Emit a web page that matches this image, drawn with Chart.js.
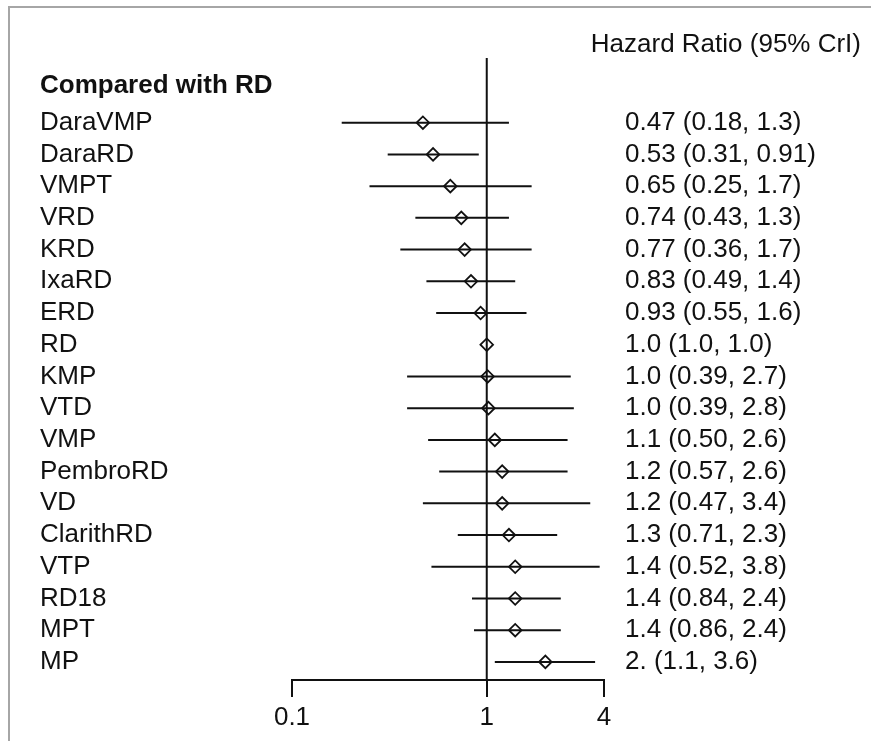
<!DOCTYPE html>
<html><head><meta charset="utf-8">
<script src="https://cdn.jsdelivr.net/npm/chart.js@4.4.0/dist/chart.umd.min.js"></script>
<style>
html,body{margin:0;padding:0;background:#fff;}
#wrap{position:relative;width:871px;height:741px;overflow:hidden;background:#fff;}
#frame{position:absolute;left:8px;top:6px;width:900px;height:800px;border-left:2px solid #a6a6a6;border-top:2px solid #a6a6a6;pointer-events:none;}
canvas{position:absolute;left:0;top:0;}
</style></head><body>
<div id="wrap"><canvas id="c" width="871" height="741"></canvas><div id="frame"></div></div>
<script>
const groupHeader = "Compared with RD";
const columnHeader = "Hazard Ratio (95% CrI)";
const treatments = ["DaraVMP","DaraRD","VMPT","VRD","KRD","IxaRD","ERD","RD","KMP","VTD","VMP","PembroRD","VD","ClarithRD","VTP","RD18","MPT","MP"];
const hazardRatio = [0.47,0.53,0.65,0.74,0.77,0.83,0.93,1.0,1.01,1.02,1.1,1.2,1.2,1.3,1.4,1.4,1.4,2.0];
const lowerCrI = [0.18,0.31,0.25,0.43,0.36,0.49,0.55,1.0,0.39,0.39,0.50,0.57,0.47,0.71,0.52,0.84,0.86,1.1];
const upperCrI = [1.3,0.91,1.7,1.3,1.7,1.4,1.6,1.0,2.7,2.8,2.6,2.6,3.4,2.3,3.8,2.4,2.4,3.6];
const valueLabels = ["0.47 (0.18, 1.3)","0.53 (0.31, 0.91)","0.65 (0.25, 1.7)","0.74 (0.43, 1.3)","0.77 (0.36, 1.7)","0.83 (0.49, 1.4)","0.93 (0.55, 1.6)","1.0 (1.0, 1.0)","1.0 (0.39, 2.7)","1.0 (0.39, 2.8)","1.1 (0.50, 2.6)","1.2 (0.57, 2.6)","1.2 (0.47, 3.4)","1.3 (0.71, 2.3)","1.4 (0.52, 3.8)","1.4 (0.84, 2.4)","1.4 (0.86, 2.4)","2. (1.1, 3.6)"];
const xTickValues = [0.1, 1, 4];
const xTickLabels = ["0.1","1","4"];
const referenceValue = 1;

const Y_MIN = -2.04, Y_MAX = 17.57, HEADER_POS = -1.15;
const FS = 26;
const ink = '#111';
Chart.defaults.font.family = "'Liberation Sans', Arial, sans-serif";
Chart.defaults.color = ink;

const intervals = [];
treatments.forEach((t, i) => {
  intervals.push({x: lowerCrI[i], y: i});
  intervals.push({x: upperCrI[i], y: i});
  intervals.push({x: referenceValue, y: null});
});
const points = hazardRatio.map((v, i) => ({x: v, y: i}));

new Chart(document.getElementById('c'), {
  type: 'scatter',
  data: {datasets: [
    {data: [{x: referenceValue, y: Y_MIN}, {x: referenceValue, y: Y_MAX}], showLine: true, borderColor: ink, borderWidth: 2, pointRadius: 0},
    {data: intervals, showLine: true, spanGaps: false, borderColor: ink, borderWidth: 2, pointRadius: 0},
    {data: points, pointStyle: 'rectRot', pointRadius: 6.3, backgroundColor: '#fff', borderColor: ink, borderWidth: 1.8}
  ]},
  options: {
    responsive: false, animation: false,
    layout: {padding: {left: 40, right: 10, top: 0, bottom: 0}},
    plugins: {
      legend: {display: false}, tooltip: {enabled: false},
      title: {display: true, text: columnHeader, align: 'end', color: ink,
        font: {size: FS, weight: 'normal', lineHeight: 0.9}, padding: {top: 33.3, bottom: 1.3}}
    },
    scales: {
      x: {type: 'logarithmic', min: 0.1, max: 4, position: 'bottom',
        afterBuildTicks: s => { s.ticks = xTickValues.map(v => ({value: v})); },
        ticks: {callback: (v, i) => xTickLabels[i], font: {size: FS}, padding: 5, autoSkip: false, maxRotation: 0, color: ink},
        grid: {drawOnChartArea: false, drawTicks: true, tickLength: 17, color: ink, lineWidth: 2},
        border: {display: true, color: ink, width: 2},
        afterFit: s => { s.height = 61; }
      },
      y: {type: 'linear', reverse: true, min: Y_MIN, max: Y_MAX, position: 'left',
        afterBuildTicks: s => { s.ticks = [{value: HEADER_POS}].concat(treatments.map((t, i) => ({value: i}))); },
        ticks: {callback: (v, i) => i === 0 ? groupHeader : treatments[i - 1], crossAlign: 'far', autoSkip: false, color: ink,
          font: c => c.index === 0 ? {size: FS, weight: 'bold'} : {size: FS}},
        grid: {display: false, drawTicks: false, tickLength: 0}, border: {display: false},
        afterFit: s => { s.width = 252; }
      },
      y2: {type: 'linear', reverse: true, min: Y_MIN, max: Y_MAX, position: 'right',
        afterBuildTicks: s => { s.ticks = valueLabels.map((t, i) => ({value: i})); },
        ticks: {callback: (v, i) => valueLabels[i], crossAlign: 'near', padding: 21, autoSkip: false, color: ink, font: {size: FS}},
        grid: {display: false, drawTicks: false, tickLength: 0}, border: {display: false},
        afterFit: s => { s.width = 257; }
      }
    }
  }
});
</script>
</body></html>
